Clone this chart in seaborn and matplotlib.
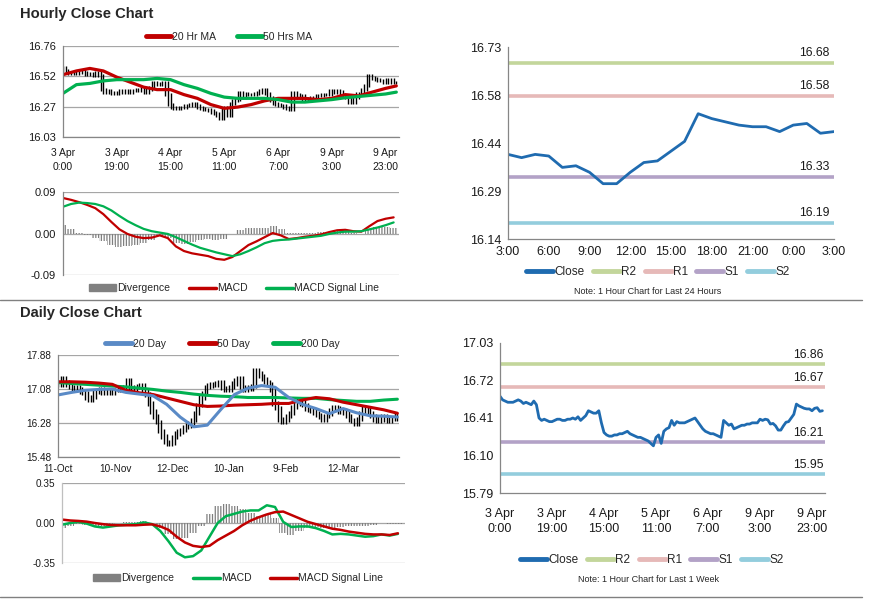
import numpy as np
import matplotlib
matplotlib.use("Agg")
import matplotlib.pyplot as plt
import seaborn as sns
from matplotlib.lines import Line2D
from matplotlib.patches import Patch

# ---------------- hourly data (3 Apr 0:00 -> 10 Apr 3:00) ----------------
hourly_close = [
    16.59, 16.56, 16.55, 16.54, 16.54, 16.54, 16.55, 16.56, 16.55, 16.53,
    16.54, 16.53, 16.52, 16.55, 16.52, 16.41, 16.39, 16.40, 16.39, 16.38,
    16.38, 16.39, 16.40, 16.40, 16.39, 16.39, 16.40, 16.40, 16.41, 16.40,
    16.42, 16.39, 16.41, 16.43, 16.47, 16.46, 16.45, 16.45, 16.47, 16.37,
    16.29, 16.27, 16.26, 16.26, 16.27, 16.27, 16.28, 16.28, 16.29, 16.30,
    16.28, 16.27, 16.26, 16.25, 16.25, 16.24, 16.23, 16.22, 16.20, 16.18,
    16.25, 16.27, 16.20, 16.30, 16.32, 16.33, 16.39, 16.35, 16.38, 16.37,
    16.37, 16.37, 16.38, 16.39, 16.40, 16.41, 16.38, 16.35, 16.32, 16.30,
    16.29, 16.28, 16.28, 16.27, 16.26, 16.25, 16.39, 16.37, 16.35, 16.36,
    16.32, 16.33, 16.34, 16.35, 16.35, 16.36, 16.36, 16.37, 16.37, 16.37,
    16.40, 16.39, 16.40, 16.395, 16.36, 16.365, 16.345, 16.31, 16.31, 16.345,
    16.375, 16.38, 16.41, 16.44, 16.525, 16.51, 16.50, 16.49, 16.485, 16.485,
    16.47, 16.49, 16.495, 16.465, 16.47,
]
hourly_tick_labels = ["3 Apr\n0:00", "3 Apr\n19:00", "4 Apr\n15:00", "5 Apr\n11:00",
                      "6 Apr\n7:00", "9 Apr\n3:00", "9 Apr\n23:00"]

ma_hours = list(range(0, 121, 5)) + [124]
ma20_hr = [16.53, 16.56, 16.58, 16.56, 16.51, 16.47, 16.43, 16.41, 16.41, 16.37,
           16.34, 16.29, 16.26, 16.27, 16.29, 16.32, 16.34, 16.34, 16.34, 16.33,
           16.34, 16.37, 16.36, 16.39, 16.42, 16.44]
ma50_hr = [16.38, 16.45, 16.46, 16.48, 16.49, 16.49, 16.49, 16.50, 16.49, 16.45,
           16.42, 16.38, 16.35, 16.34, 16.34, 16.34, 16.33, 16.31, 16.31, 16.32,
           16.33, 16.345, 16.355, 16.365, 16.375, 16.39]

macd_hours = list(range(0, 124, 3))
macd_hr = [0.077, 0.073, 0.068, 0.062, 0.055, 0.042, 0.025, 0.009, -0.001, -0.007,
           -0.010, -0.009, -0.004, -0.010, -0.028, -0.038, -0.043, -0.046, -0.049, -0.055,
           -0.057, -0.051, -0.038, -0.025, -0.017, -0.008, 0.001, -0.004, -0.012, -0.010,
           -0.007, -0.005, -0.002, 0.003, 0.007, 0.008, 0.005, 0.004, 0.016, 0.027,
           0.032, 0.035]
signal_hr = [0.058, 0.064, 0.067, 0.066, 0.064, 0.059, 0.050, 0.038, 0.027, 0.018,
             0.010, 0.005, 0.002, -0.001, -0.008, -0.016, -0.024, -0.031, -0.036, -0.041,
             -0.045, -0.049, -0.045, -0.038, -0.030, -0.021, -0.016, -0.014, -0.013, -0.011,
             -0.009, -0.007, -0.005, -0.001, 0.002, 0.004, 0.004, 0.005, 0.009, 0.013,
             0.018, 0.024]

last24_tick_labels = ["3:00", "6:00", "9:00", "12:00", "15:00", "18:00", "21:00", "0:00", "3:00"]

level_names = ["R2", "R1", "S1", "S2"]
levels_24h = [16.68, 16.58, 16.33, 16.19]
levels_week = [16.86, 16.67, 16.21, 15.95]

# ---------------- daily data (11 Oct -> 10 Apr) ----------------
daily_close = [
    17.21, 17.18, 17.33, 17.25, 17.18, 17.13, 17.09, 17.12, 17.07, 17.02,
    16.98, 16.86, 16.82, 16.90, 17.04, 17.02, 17.08, 17.00, 17.06, 17.03,
    16.98, 17.05, 17.06, 17.13, 17.10, 17.13, 17.29, 17.10, 17.05, 17.12,
    17.14, 17.16, 17.06, 16.95, 16.74, 16.55, 16.43, 16.30, 16.10, 15.96,
    15.84, 15.78, 15.82, 15.95, 16.03, 16.08, 16.12, 16.18, 16.22, 16.28,
    16.35, 16.52, 16.70, 16.88, 16.98, 17.12, 17.16, 17.20, 17.18, 17.22,
    17.25, 17.10, 17.05, 17.06, 17.12, 17.21, 17.30, 17.33, 17.12, 17.05,
    17.12, 17.08, 17.15, 17.52, 17.45, 17.38, 17.32, 17.25, 17.20, 17.05,
    16.74, 16.63, 16.35, 16.30, 16.36, 16.45, 16.52, 16.66, 16.72, 16.82,
    16.78, 16.70, 16.62, 16.59, 16.56, 16.52, 16.47, 16.43, 16.35, 16.45,
    16.50, 16.58, 16.66, 16.62, 16.55, 16.58, 16.52, 16.45, 16.35, 16.32,
    16.27, 16.38, 16.52, 16.63, 16.60, 16.52, 16.45, 16.35, 16.32, 16.40,
    16.44, 16.35, 16.32, 16.40, 16.38, 16.47,
]
daily_tick_labels = ["11-Oct", "10-Nov", "12-Dec", "10-Jan", "9-Feb", "12-Mar"]

ma_days = list(range(0, 126, 5))
ma20_day = [16.94, 17.00, 17.05, 17.07, 17.08, 17.00, 16.96, 16.92, 16.72, 16.42,
            16.19, 16.23, 16.60, 16.95, 17.10, 17.16, 17.12, 16.88, 16.72, 16.62,
            16.50, 16.62, 16.52, 16.45, 16.44, 16.42]
ma50_day = [17.25, 17.25, 17.24, 17.22, 17.19, 17.05, 16.99, 16.95, 16.87, 16.79,
            16.71, 16.67, 16.68, 16.70, 16.71, 16.72, 16.74, 16.74, 16.82, 16.88,
            16.85, 16.77, 16.71, 16.65, 16.59, 16.51]
ma200_day = [17.23, 17.21, 17.19, 17.17, 17.15, 17.13, 17.10, 17.07, 17.03, 17.00,
             16.96, 16.93, 16.91, 16.90, 16.88, 16.88, 16.88, 16.87, 16.86, 16.86,
             16.83, 16.81, 16.79, 16.79, 16.82, 16.84]

macd_days = list(range(0, 124, 3))
macd_day = [-0.015, 0.000, 0.010, -0.005, -0.030, -0.040, -0.030, -0.020, -0.015, -0.010,
            0.005, -0.010, -0.070, -0.160, -0.260, -0.300, -0.290, -0.240, -0.120, 0.000,
            0.060, 0.080, 0.100, 0.110, 0.110, 0.155, 0.140, 0.010, -0.035, -0.030,
            -0.030, -0.045, -0.070, -0.100, -0.095, -0.100, -0.110, -0.120, -0.115, -0.100,
            -0.110, -0.095]
signal_day = [0.030, 0.022, 0.018, 0.012, 0.000, -0.010, -0.018, -0.020, -0.020, -0.020,
              -0.015, -0.012, -0.030, -0.060, -0.120, -0.170, -0.200, -0.210, -0.200, -0.150,
              -0.110, -0.070, -0.020, 0.020, 0.050, 0.075, 0.095, 0.100, 0.070, 0.040,
              0.010, -0.010, -0.030, -0.050, -0.060, -0.075, -0.085, -0.095, -0.100, -0.100,
              -0.105, -0.090]

# ---------------- colours ----------------
RED = "#C00000"
GREEN = "#00B050"
BLUE20 = "#5A8AC6"
CLOSE_BLUE = "#1F6BB0"
level_colors = ["#C3D69B", "#E6B9B8", "#B3A2C7", "#93CDDD"]
AXIS_GREY = "#868686"
GRID_GREY = "#A6A6A6"

sns.set_style("white")
plt.rcParams["font.family"] = ["Liberation Sans", "DejaVu Sans"]
plt.rcParams["hatch.linewidth"] = 0.9

W, H = 873, 601
fig = plt.figure(figsize=(W / 100, H / 100), dpi=100)


def box(x0, y0, x1, y1):
    # pixel box (top-left origin) -> figure fraction rect
    return [x0 / W, 1 - y1 / H, (x1 - x0) / W, (y1 - y0) / H]


def fy(y):
    return 1 - y / H


def fx(x):
    return x / W


def base_style(ax, size=8):
    for s in ["top", "right"]:
        ax.spines[s].set_visible(False)
    for s in ["left", "bottom"]:
        ax.spines[s].set_color(AXIS_GREY)
        ax.spines[s].set_linewidth(0.9)
    ax.tick_params(axis="both", labelsize=size, length=3, width=0.8,
                   color=AXIS_GREY, pad=2, labelcolor="#1a1a1a")
    ax.set_xlabel("")
    ax.set_ylabel("")


def price_bars(ax, values, reach, pad, lw):
    # vertical range bars built from the closes around each point
    v = np.asarray(values)
    n = len(v)
    lo = np.array([v[max(0, i - reach):i + reach + 1].min() for i in range(n)]) - pad
    hi = np.array([v[max(0, i - reach):i + reach + 1].max() for i in range(n)]) + pad
    ax.vlines(np.arange(n), lo, hi, color="black", linewidth=lw)


def divergence(ax, x, hist, step):
    ax.bar(x, hist, width=step, facecolor="none", edgecolor="#7F7F7F",
           hatch="||||||", linewidth=0)


def line_handle(color, lw=3.5):
    return Line2D([0], [0], color=color, lw=lw)


# ================= Hourly price (top-left) =================
ax1 = fig.add_axes(box(63, 46, 399, 137))
price_bars(ax1, hourly_close, 1, 0.012, 1.0)
sns.lineplot(x=ma_hours, y=ma20_hr, ax=ax1, color=RED, linewidth=2.3, legend=False)
sns.lineplot(x=ma_hours, y=ma50_hr, ax=ax1, color=GREEN, linewidth=2.3, legend=False)
ax1.set_xlim(0, 125)
ax1.set_ylim(16.03, 16.76)
ax1.set_yticks(np.linspace(16.03, 16.76, 4))
ax1.set_yticklabels(["16.03", "16.27", "16.52", "16.76"])
ax1.set_xticks(range(0, 121, 20))
ax1.set_xticklabels(hourly_tick_labels, linespacing=1.45)
ax1.yaxis.grid(True, color=GRID_GREY, linewidth=0.9)
ax1.set_axisbelow(True)
base_style(ax1, 8)
ax1.tick_params(axis="x", labelsize=7.5, pad=5)

fig.legend([line_handle(RED), line_handle(GREEN)], ["20 Hr MA", "50 Hrs MA"],
           loc="center", bbox_to_anchor=(fx(229), fy(37)), ncol=2, frameon=False,
           fontsize=7.5, handlelength=2.4, handletextpad=0.1, columnspacing=2.0)

# ================= Hourly MACD =================
ax2 = fig.add_axes(box(63, 192, 399, 275))
hist_hr = np.array(macd_hr) - np.array(signal_hr)
divergence(ax2, macd_hours, hist_hr, 3)
sns.lineplot(x=macd_hours, y=macd_hr, ax=ax2, color=RED, linewidth=1.6, legend=False)
sns.lineplot(x=macd_hours, y=signal_hr, ax=ax2, color=GREEN, linewidth=1.6, legend=False)
ax2.set_xlim(0, 125)
ax2.set_ylim(-0.09, 0.09)
ax2.set_yticks([-0.09, 0.0, 0.09])
ax2.set_yticklabels(["-0.09", "0.00", "0.09"])
ax2.set_xticks([])
ax2.yaxis.grid(True, color=GRID_GREY, linewidth=0.9)
ax2.set_axisbelow(True)
base_style(ax2, 8)
ax2.spines["bottom"].set_visible(False)

fig.legend([Patch(color="#808080"), line_handle(RED, 2.5), line_handle(GREEN, 2.5)],
           ["Divergence", "MACD", "MACD Signal Line"],
           loc="center", bbox_to_anchor=(fx(234), fy(288)), ncol=3, frameon=False,
           fontsize=7.5, handlelength=2.6, handleheight=0.6, handletextpad=0.1,
           columnspacing=1.8)

# ================= Last 24 hours (top-right) =================
ax3 = fig.add_axes(box(508, 47, 834, 239))
last24 = hourly_close[-25:]
for val, col in zip(levels_24h, level_colors):
    ax3.axhline(val, color=col, linewidth=2.6)
    ax3.annotate(f"{val:.2f}", xy=(24, val), xytext=(-3, 3), textcoords="offset points",
                 ha="right", va="bottom", fontsize=8.8, color="#1a1a1a")
sns.lineplot(x=np.arange(25), y=last24, ax=ax3, color=CLOSE_BLUE, linewidth=2.0, legend=False)
ax3.set_xlim(0, 24)
ax3.set_ylim(16.14, 16.73)
ax3.set_yticks(np.linspace(16.14, 16.73, 5))
ax3.set_yticklabels(["16.14", "16.29", "16.44", "16.58", "16.73"])
ax3.set_xticks(range(0, 25, 3))
ax3.set_xticklabels(last24_tick_labels)
base_style(ax3, 9)

fig.legend([line_handle(CLOSE_BLUE)] + [line_handle(c) for c in level_colors],
           ["Close"] + level_names,
           loc="center", bbox_to_anchor=(fx(658), fy(272)), ncol=5, frameon=False,
           fontsize=8.5, handlelength=2.3, handletextpad=0.1, columnspacing=0.7)
fig.text(fx(648), fy(292), "Note: 1 Hour Chart for Last 24 Hours", ha="center",
         va="center", fontsize=6.5)

# ================= Daily price (bottom-left) =================
ax4 = fig.add_axes(box(58, 355, 399, 457))
price_bars(ax4, daily_close, 1, 0.05, 1.0)
sns.lineplot(x=ma_days, y=ma200_day, ax=ax4, color=GREEN, linewidth=2.2, legend=False)
sns.lineplot(x=ma_days, y=ma50_day, ax=ax4, color=RED, linewidth=2.2, legend=False)
sns.lineplot(x=ma_days, y=ma20_day, ax=ax4, color=BLUE20, linewidth=2.2, legend=False)
ax4.set_xlim(0, 125.6)
ax4.set_ylim(15.48, 17.88)
ax4.set_yticks([15.48, 16.28, 17.08, 17.88])
ax4.set_yticklabels(["15.48", "16.28", "17.08", "17.88"])
ax4.set_xticks(range(0, 106, 21))
ax4.set_xticklabels(daily_tick_labels)
ax4.yaxis.grid(True, color=GRID_GREY, linewidth=0.9)
ax4.set_axisbelow(True)
base_style(ax4, 7.2)

fig.legend([line_handle(BLUE20), line_handle(RED), line_handle(GREEN)],
           ["20 Day", "50 Day", "200 Day"],
           loc="center", bbox_to_anchor=(fx(222), fy(344)), ncol=3, frameon=False,
           fontsize=7.5, handlelength=2.6, handletextpad=0.1, columnspacing=2.2)

# ================= Daily MACD =================
ax5 = fig.add_axes(box(62, 483, 405, 563))
hist_day = np.array(macd_day) - np.array(signal_day)
divergence(ax5, macd_days, hist_day, 3)
sns.lineplot(x=macd_days, y=macd_day, ax=ax5, color=GREEN, linewidth=1.8, legend=False)
sns.lineplot(x=macd_days, y=signal_day, ax=ax5, color=RED, linewidth=1.8, legend=False)
ax5.set_xlim(0, 125.6)
ax5.set_ylim(-0.35, 0.35)
ax5.set_yticks([-0.35, 0.0, 0.35])
ax5.set_yticklabels(["-0.35", "0.00", "0.35"])
ax5.set_xticks([])
ax5.yaxis.grid(True, color=GRID_GREY, linewidth=0.9)
ax5.set_axisbelow(True)
base_style(ax5, 7.2)
ax5.spines["bottom"].set_visible(False)
ax5.spines["left"].set_color("#BFBFBF")

fig.legend([Patch(color="#808080"), line_handle(GREEN, 2.5), line_handle(RED, 2.5)],
           ["Divergence", "MACD", "MACD Signal Line"],
           loc="center", bbox_to_anchor=(fx(238), fy(578)), ncol=3, frameon=False,
           fontsize=7.5, handlelength=2.6, handleheight=0.6, handletextpad=0.1,
           columnspacing=1.8)

# ================= Last week hourly (bottom-right) =================
ax6 = fig.add_axes(box(500, 343, 825, 493))
for val, col in zip(levels_week, level_colors):
    ax6.axhline(val, color=col, linewidth=2.6)
    ax6.annotate(f"{val:.2f}", xy=(125, val), xytext=(-1, 2), textcoords="offset points",
                 ha="right", va="bottom", fontsize=8.8, color="#1a1a1a")
sns.lineplot(x=np.arange(len(hourly_close)), y=hourly_close, ax=ax6, color=CLOSE_BLUE,
             linewidth=2.0, legend=False)
ax6.set_xlim(0, 125)
ax6.set_ylim(15.79, 17.03)
ax6.set_yticks(np.linspace(15.79, 17.03, 5))
ax6.set_yticklabels(["15.79", "16.10", "16.41", "16.72", "17.03"])
ax6.set_xticks(range(0, 121, 20))
ax6.set_xticklabels(hourly_tick_labels, linespacing=1.25)
base_style(ax6, 9)
ax6.tick_params(axis="x", pad=8)

fig.legend([line_handle(CLOSE_BLUE)] + [line_handle(c) for c in level_colors],
           ["Close"] + level_names,
           loc="center", bbox_to_anchor=(fx(652), fy(560)), ncol=5, frameon=False,
           fontsize=8.5, handlelength=2.3, handletextpad=0.1, columnspacing=0.7)
fig.text(fx(649), fy(580), "Note: 1 Hour Chart for Last 1 Week", ha="center",
         va="center", fontsize=6.5)

# ================= titles and separators =================
fig.text(fx(20), fy(14), "Hourly Close Chart", fontsize=10.6, fontweight="bold", va="center")
fig.text(fx(20), fy(313), "Daily Close Chart", fontsize=10.6, fontweight="bold", va="center")
for yy in (300, 597):
    fig.add_artist(Line2D([0, fx(862)], [fy(yy), fy(yy)], color="#808080", linewidth=1.0))

fig.savefig("out.png", dpi=100)
